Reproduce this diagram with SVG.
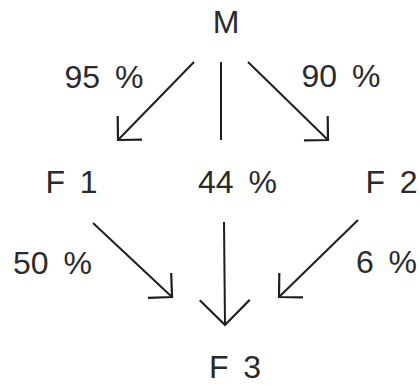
<svg xmlns="http://www.w3.org/2000/svg" width="420" height="387" viewBox="0 0 420 387">
<style>
.t{font-family:"Liberation Sans",Arial,sans-serif;font-size:32px;fill:#2a2a2a;text-anchor:middle;word-spacing:6px}
.c{stroke:#1e1e1e;stroke-width:2;fill:none}
</style>
<defs>
<marker id="a" markerUnits="userSpaceOnUse" orient="auto" refX="0" refY="0" markerWidth="40" markerHeight="40" viewBox="-20 -20 40 40" overflow="visible">
<path d="M-17,-17 L0,0 L-17,17" fill="none" stroke="#1e1e1e" stroke-width="2.2"/>
</marker>
<marker id="b" markerUnits="userSpaceOnUse" orient="auto" refX="0" refY="0" markerWidth="60" markerHeight="60" viewBox="-30 -30 60 60" overflow="visible">
<path d="M-25,-25 L0,0 L-25,25" fill="none" stroke="#1e1e1e" stroke-width="2.2"/>
</marker>
</defs>
<rect width="420" height="387" fill="#fff"/>
<g id="connectors">
<line class="c" x1="194" y1="62" x2="118" y2="140" marker-end="url(#a)"/>
<line class="c" x1="221" y1="62" x2="221" y2="140"/>
<line class="c" x1="248" y1="62" x2="328" y2="140" marker-end="url(#a)"/>
<line class="c" x1="93" y1="223" x2="172" y2="297" marker-end="url(#a)"/>
<line class="c" x1="224" y1="222" x2="225" y2="325" marker-end="url(#b)"/>
<line class="c" x1="358" y1="220" x2="279" y2="297" marker-end="url(#a)"/>
</g>
<g id="labels">
<text class="t" x="104" y="88">95 %</text>
<text class="t" x="341" y="87">90 %</text>
<text class="t" x="237.5" y="193">44 %</text>
<text class="t" x="52.5" y="274">50 %</text>
<text class="t" x="386.5" y="273">6 %</text>
</g>
<g id="M"><text class="t" x="226" y="33">M</text></g>
<g id="F1"><text class="t" x="71.5" y="193">F 1</text></g>
<g id="F2"><text class="t" x="391.5" y="193">F 2</text></g>
<g id="F3"><text class="t" x="235" y="378">F 3</text></g>
</svg>
